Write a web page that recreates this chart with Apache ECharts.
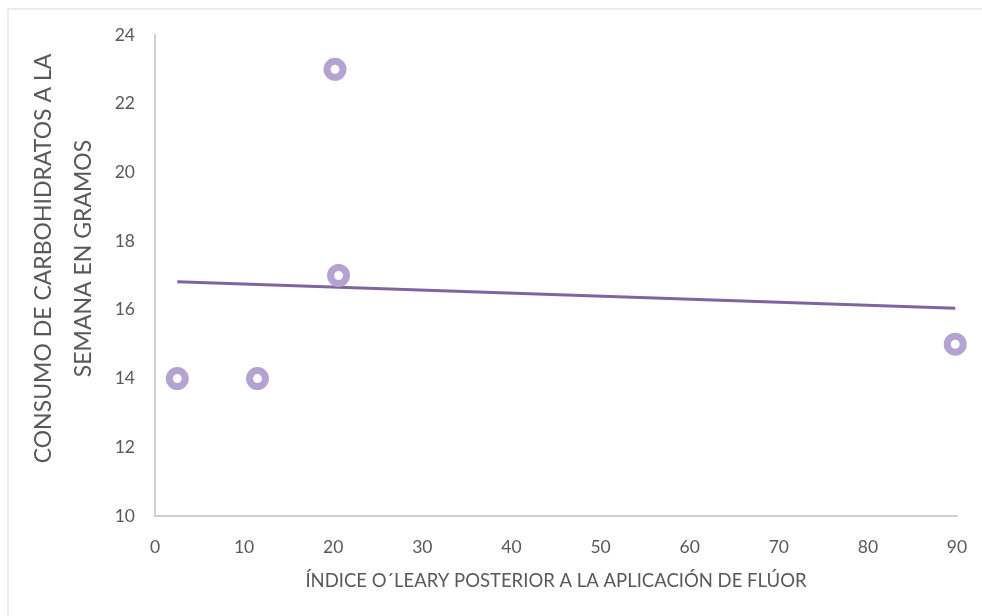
<!DOCTYPE html>
<html>
<head>
<meta charset="utf-8">
<script src="https://cdn.jsdelivr.net/npm/echarts@6/dist/echarts.min.js"></script>
<style>
html, body { margin: 0; padding: 0; background: #fff; }
#chart { width: 982px; height: 616px; }
</style>
</head>
<body>
<div id="chart"></div>
<script>
var pointX = [2.5, 11.5, 20.2, 20.6, 89.8];
var pointY = [14, 14, 23, 17, 15];
var trendX = [2.5, 89.8];
var trendY = [16.82, 16.05];
var xTitle = 'ÍNDICE O´LEARY POSTERIOR A LA APLICACIÓN DE FLÚOR';
var yTitle = 'CONSUMO DE CARBOHIDRATOS A LA\nSEMANA EN GRAMOS';

var myChart = echarts.init(document.getElementById('chart'));

var points = [];
for (var i = 0; i < pointX.length; i++) {
    points.push([pointX[i], pointY[i]]);
}
var trend = [];
for (var j = 0; j < trendX.length; j++) {
    trend.push([trendX[j], trendY[j]]);
}

var textGray = '#595959';

myChart.setOption({
    animation: false,
    textStyle: { fontFamily: 'Lato, "Open Sans", sans-serif' },
    graphic: [{
        type: 'rect',
        shape: { x: 8, y: 9, width: 1000, height: 700 },
        style: { fill: 'none', stroke: '#d9d9d9', lineWidth: 1 },
        silent: true
    }],
    grid: { left: 155, right: 25, top: 35, bottom: 100, outerBoundsMode: 'none', containLabel: false },
    xAxis: {
        type: 'value',
        min: 0,
        max: 90,
        interval: 10,
        name: xTitle,
        nameLocation: 'middle',
        nameGap: 56,
        nameTextStyle: { color: textGray, fontSize: 18.5 },
        axisLine: { show: true, lineStyle: { color: '#d0d0d0', width: 2 } },
        axisTick: { show: false },
        splitLine: { show: false },
        axisLabel: { color: textGray, fontSize: 17.5, margin: 22 }
    },
    yAxis: {
        type: 'value',
        min: 10,
        max: 24,
        interval: 2,
        name: yTitle,
        nameLocation: 'middle',
        nameGap: 50,
        nameRotate: 90,
        nameTextStyle: { color: textGray, fontSize: 23, lineHeight: 40, padding: [0, 0, 0, 34] },
        axisLine: { show: true, lineStyle: { color: '#d0d0d0', width: 2 } },
        axisTick: { show: false },
        splitLine: { show: false },
        axisLabel: { color: textGray, fontSize: 17.5, margin: 20 }
    },
    series: [{
        type: 'line',
        data: trend,
        symbol: 'none',
        lineStyle: { color: '#8064a2', width: 3 },
        z: 2
    }, {
        type: 'scatter',
        data: points,
        symbol: 'circle',
        symbolSize: 16,
        itemStyle: { color: '#ffffff', borderColor: '#b4a2d0', borderWidth: 7, opacity: 1 },
        z: 3
    }]
});
</script>
</body>
</html>
